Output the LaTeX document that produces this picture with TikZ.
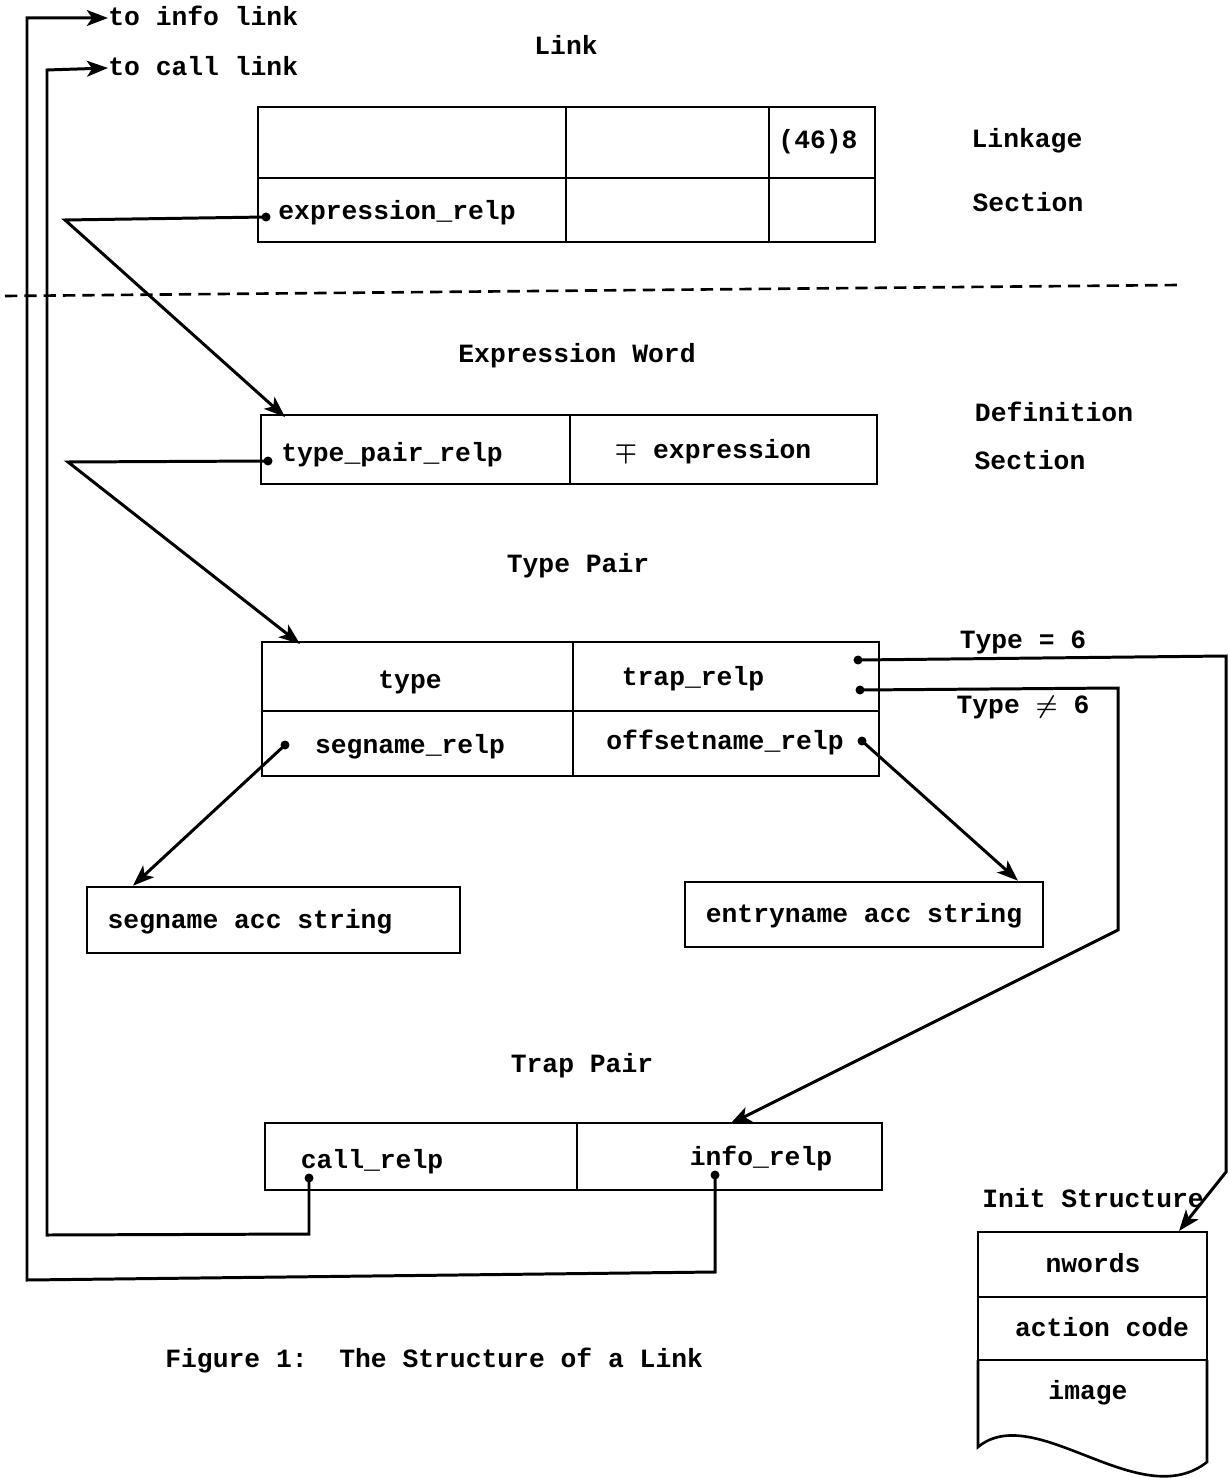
\documentclass[tikz,border=0pt]{standalone}
\usepackage{fontspec}
\setmonofont{Liberation Mono}
\usetikzlibrary{arrows.meta}

\tikzset{
  cell/.style={draw, line width=1.5pt, inner sep=0pt},
  lbl/.style={font=\ttfamily\bfseries\boldmath\fontsize{15}{18}\selectfont, inner sep=0pt, text height=0.85em, text depth=0pt},
  wire/.style={line width=1.7pt, >={Stealth[length=12pt,width=9pt,inset=3pt]}},
}

\begin{document}
\begin{tikzpicture}[x=0.02cm, y=-0.02cm]
\useasboundingbox (0,0) rectangle (1228,1479);

% linkage section
\node[lbl] (tlink) at (566,47) {Link};
\node[cell, minimum width=6.16cm, minimum height=1.42cm] (lk11) at (412,142.5) {};
\node[cell, minimum width=4.06cm, minimum height=1.42cm] (lk12) at (667.5,142.5) {};
\node[cell, minimum width=2.12cm, minimum height=1.42cm] (lk13) at (822,142.5) {};
\node[cell, minimum width=6.16cm, minimum height=1.28cm] (lk21) at (412,210) {};
\node[cell, minimum width=4.06cm, minimum height=1.28cm] (lk22) at (667.5,210) {};
\node[cell, minimum width=2.12cm, minimum height=1.28cm] (lk23) at (822,210) {};
\node[lbl] (t46) at (818,141) {(46)8};
\node[lbl] (texprelp) at (397,212) {expression\_relp};
\node[lbl] (tlinkage) at (1027,140) {Linkage};
\node[lbl] (tsect1) at (1028,204) {Section};

\draw[line width=1.5pt, dash pattern=on 7pt off 4pt] (5,296) -- (1180,285);

% definition section
\node[lbl] (texpword) at (577,355) {Expression Word};
\node[cell, minimum width=6.18cm, minimum height=1.38cm] (ew1) at (415.5,449.5) {};
\node[cell, minimum width=6.14cm, minimum height=1.38cm] (ew2) at (723.5,449.5) {};
\node[lbl] (ttprelp) at (392,454) {type\_pair\_relp};
\node[lbl] (texpr) at (713,451) {$\mp$ expression};
\node[lbl] (tdef) at (1054,414) {Definition};
\node[lbl] (tsect2) at (1030,462) {Section};

\node[lbl] (ttypepair) at (578,565) {Type Pair};
\node[cell, minimum width=6.22cm, minimum height=1.38cm] (tp11) at (417.5,676.5) {};
\node[cell, minimum width=6.12cm, minimum height=1.38cm] (tp12) at (726,676.5) {};
\node[cell, minimum width=6.22cm, minimum height=1.3cm] (tp21) at (417.5,743.5) {};
\node[cell, minimum width=6.12cm, minimum height=1.3cm] (tp22) at (726,743.5) {};
\node[lbl] (ttype) at (410,681) {type};
\node[lbl] (ttraprelp) at (693,678) {trap\_relp};
\node[lbl] (tsegrelp) at (410,746) {segname\_relp};
\node[lbl] (toffrelp) at (725,742) {offsetname\_relp};
\node[lbl] (teq) at (1023,641) {Type = 6};
\node[lbl] (tneq) at (1023,706) {Type $\neq$ 6};

\node[cell, minimum width=7.46cm, minimum height=1.32cm] (seg) at (273.5,920) {};
\node[lbl] (tseg) at (250,921) {segname acc string};
\node[cell, minimum width=7.16cm, minimum height=1.3cm] (entry) at (864,914.5) {};
\node[lbl] (tentry) at (864,915) {entryname acc string};

\node[lbl] (ttrappair) at (582,1065) {Trap Pair};
\node[cell, minimum width=6.24cm, minimum height=1.34cm] (tr1) at (421,1156.5) {};
\node[cell, minimum width=6.10cm, minimum height=1.34cm] (tr2) at (729.5,1156.5) {};
\node[lbl] (tcall) at (372,1161) {call\_relp};
\node[lbl] (tinfo) at (761,1158) {info\_relp};

% init structure
\node[lbl] (tinit) at (1093,1200) {Init Structure};
\node[cell, minimum width=4.58cm, minimum height=1.3cm] (in1) at (1092.5,1264.5) {};
\node[cell, minimum width=4.58cm, minimum height=1.26cm] (in2) at (1092.5,1328.5) {};
\draw[line width=1.5pt] (978,1360) -- (978,1447) .. controls (1035,1400) and (1140,1515) .. (1207,1462) -- (1207,1360);
\node[lbl] (tnwords) at (1093,1265) {nwords};
\node[lbl] (taction) at (1102,1329) {action code};
\node[lbl] (timage) at (1088,1392) {image};

\node[lbl, anchor=west] (tinfolink) at (108,18) {to info link};
\node[lbl, anchor=west] (tcalllink) at (108,68) {to call link};
\node[lbl, anchor=west] (tfig) at (165,1360) {Figure 1:\ \ The Structure of a Link};

% pointers
\coordinate (erelp) at (266,217);
\coordinate (ebend) at (65,220);
\coordinate (ewin) at (285,417);
\coordinate (tprelp) at (268,461);
\coordinate (tpbend) at (68,462);
\coordinate (tpin) at (300,644);
\coordinate (srelp) at (285,745);
\coordinate (orelp) at (862,741);
\coordinate (trapa) at (858,660);
\coordinate (trapb) at (860,690);
\coordinate (abend1) at (1226,656);
\coordinate (abend2) at (1226,1172);
\coordinate (initin) at (1179,1231);
\coordinate (bbend1) at (1118,688);
\coordinate (bbend2) at (1118,930);
\coordinate (trin) at (730,1124);
\coordinate (crelp) at (309,1178);
\coordinate (cbend1) at (309,1234);
\coordinate (cbend2) at (47,1235);
\coordinate (cbend3) at (47,70);
\coordinate (irelp) at (715,1175);
\coordinate (ibend1) at (715,1272);
\coordinate (ibend2) at (27,1280);
\coordinate (ibend3) at (27,18);

\draw[wire, ->] (erelp) -- (ebend) -- (ewin);
\draw[wire, ->] (tprelp) -- (tpbend) -- (tpin);
\draw[wire, ->] (srelp) -- (seg.north west -| 133,0);
\draw[wire, ->] (orelp) -- (entry.north west -| 1018,0);
\draw[wire, ->] (trapa) -- (abend1) -- (abend2) -- (initin);
\draw[wire, ->] (trapb) -- (bbend1) -- (bbend2) -- (trin);
\draw[wire, ->] (crelp) -- (cbend1) -- (cbend2) -- (cbend3) -- (tcalllink.west);
\draw[wire, ->] (irelp) -- (ibend1) -- (ibend2) -- (ibend3) -- (tinfolink.west);

\foreach \p in {erelp,tprelp,srelp,orelp,trapa,trapb,crelp,irelp}
  \fill (\p) circle (4.5);

\end{tikzpicture}
\end{document}
